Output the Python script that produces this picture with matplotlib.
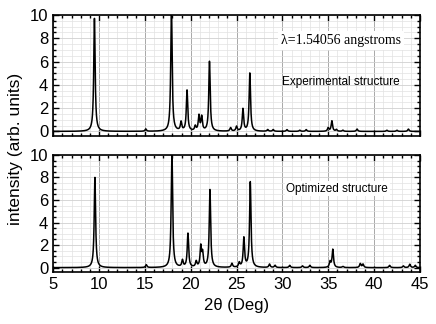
import numpy as np
import matplotlib.pyplot as plt
from matplotlib.ticker import MultipleLocator

plt.rcParams['font.family'] = ['Liberation Sans', 'DejaVu Sans']

# Peak lists: position (deg), height
exp_pos = [9.5, 15.1, 17.9, 18.95, 19.6, 20.5, 20.9, 21.2, 22.05, 24.35, 25.0,
           25.7, 26.45, 28.4, 29.0, 30.5, 31.9, 32.6, 35.0, 35.4, 35.9, 36.6,
           38.15, 41.4, 42.5, 43.75]
exp_height = [9.7, 0.2, 10.5, 0.75, 3.5, 0.4, 1.3, 1.2, 6.0, 0.3, 0.4,
              1.9, 5.0, 0.15, 0.15, 0.15, 0.1, 0.15, 0.3, 0.9, 0.15, 0.1,
              0.2, 0.1, 0.1, 0.2]
opt_pos = [9.55, 15.15, 17.95, 19.1, 19.7, 20.6, 21.1, 21.3, 22.1, 24.5, 25.3,
           25.8, 26.5, 28.6, 29.2, 30.8, 32.2, 33.0, 35.2, 35.5, 36.6, 38.5,
           38.8, 41.7, 43.2, 43.9, 44.5]
opt_height = [8.0, 0.25, 10.5, 0.6, 3.0, 0.5, 1.8, 1.2, 6.9, 0.35, 0.4,
              2.6, 7.6, 0.3, 0.2, 0.2, 0.15, 0.2, 0.5, 1.6, 0.1, 0.35,
              0.3, 0.2, 0.15, 0.3, 0.2]
half_width = 0.09

two_theta = np.linspace(5, 45, 4000)


def pattern(pos, height):
    y = np.zeros_like(two_theta)
    for p, h in zip(pos, height):
        y += h / (1. + ((two_theta - p) / half_width) ** 2)
    return y


fig = plt.figure(figsize=(4.36, 3.24), dpi=100)
ax1 = fig.add_axes([0.122, 0.580, 0.841, 0.374])
ax2 = fig.add_axes([0.122, 0.160, 0.841, 0.362])

for ax, pos, height in [(ax1, exp_pos, exp_height), (ax2, opt_pos, opt_height)]:
    ax.plot(two_theta, pattern(pos, height), color='black', lw=1.1)
    ax.set_xlim(5, 45)
    ax.set_ylim(-0.4, 10)
    ax.xaxis.set_major_locator(MultipleLocator(5))
    ax.xaxis.set_minor_locator(MultipleLocator(1))
    ax.yaxis.set_major_locator(MultipleLocator(2))
    ax.yaxis.set_minor_locator(MultipleLocator(0.5))
    ax.grid(which='minor', color='#e2e2e2', lw=0.5)
    ax.grid(which='major', axis='x', color='#a8a8a8', lw=0.7)
    ax.grid(which='major', axis='y', color='#d0d0d0', lw=0.6)
    ax.set_axisbelow(True)
    ax.tick_params(which='both', direction='in', top=True, right=True,
                   labelsize=12, width=1.0)
    ax.tick_params(which='major', length=4)
    ax.tick_params(which='minor', length=2.5)
    for s in ax.spines.values():
        s.set_linewidth(1.2)

ax1.tick_params(labelbottom=False)

# Texts
ax1.text(0.785, 0.79, r'λ=1.54056 angstroms', transform=ax1.transAxes,
         ha='center', va='center', fontsize=10, family='Liberation Serif',
         bbox=dict(facecolor='white', edgecolor='none', pad=2))
ax1.text(0.785, 0.45, 'Experimental structure', transform=ax1.transAxes,
         ha='center', va='center', fontsize=8.5)
ax2.text(0.775, 0.71, 'Optimized structure', transform=ax2.transAxes,
         ha='center', va='center', fontsize=8.5,
         bbox=dict(facecolor='white', edgecolor='none', pad=1))

ax2.set_xlabel('2θ (Deg)', fontsize=12)
fig.text(0.035, 0.54, 'intensity (arb. units)', rotation=90,
         ha='center', va='center', fontsize=12.5)

fig.savefig('out.png', dpi=100)
